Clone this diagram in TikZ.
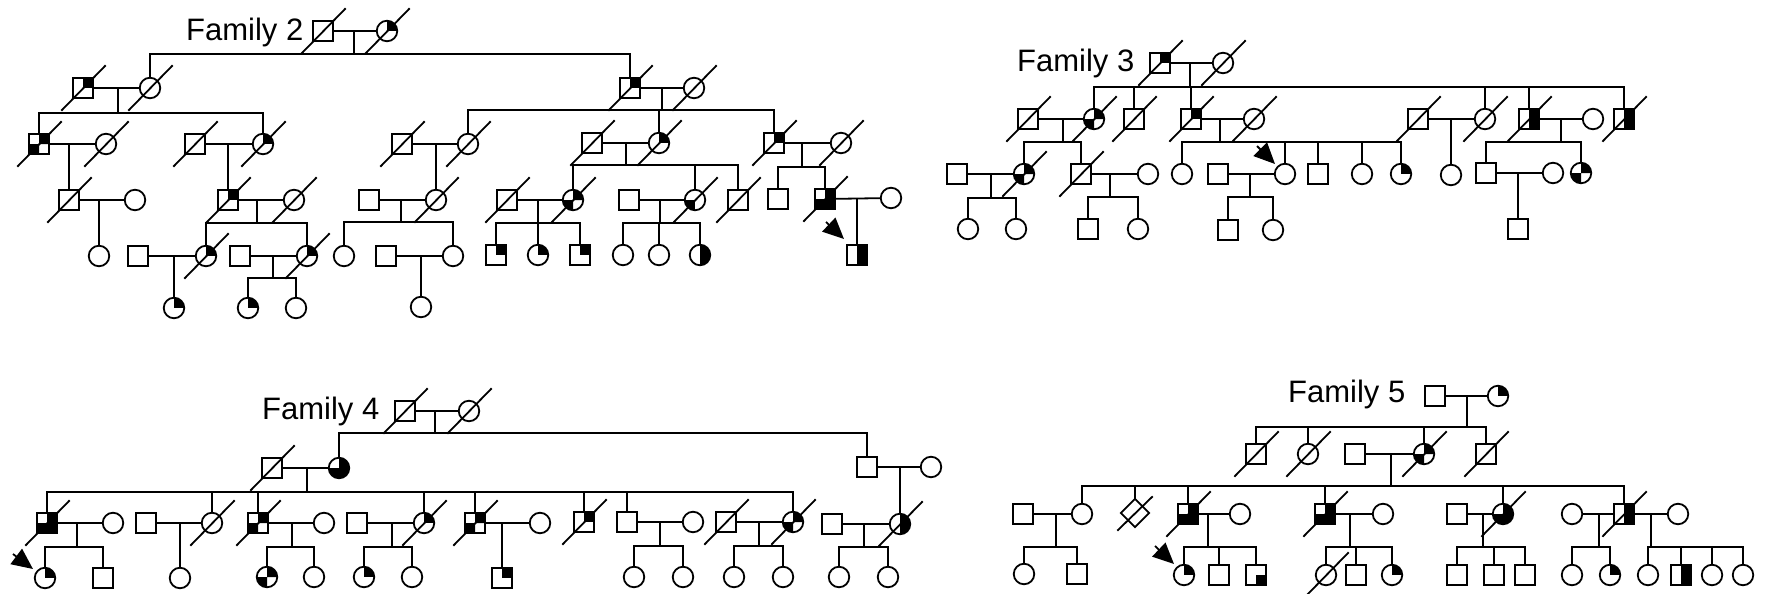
\documentclass[tikz,border=0pt]{standalone}
\usepackage{fontspec}
\setmainfont{Liberation Sans}
\usetikzlibrary{calc,shapes.geometric,arrows.meta}
\tikzset{
  lw/.style={line width=1.8pt, line cap=rect},
  male/.style={draw, rectangle, minimum size=20.5pt, inner sep=0pt, line width=1.8pt},
  fem/.style={draw, circle, minimum size=20.5pt, inner sep=0pt, line width=1.8pt},
  unk/.style={draw, diamond, minimum size=29pt, inner sep=0pt, line width=1.8pt},
  qur/.style={path picture={\fill (path picture bounding box.center) rectangle (path picture bounding box.north east);}},
  qll/.style={path picture={\fill (path picture bounding box.center) rectangle (path picture bounding box.south west);}},
  qlr/.style={path picture={\fill (path picture bounding box.center) rectangle (path picture bounding box.south east);}},
  qchk/.style={path picture={\fill (path picture bounding box.center) rectangle (path picture bounding box.north east) (path picture bounding box.center) rectangle (path picture bounding box.south west);}},
  qthree/.style={path picture={\fill (path picture bounding box.center) rectangle (path picture bounding box.north east) (path picture bounding box.center) rectangle (path picture bounding box.south west) (path picture bounding box.center) rectangle (path picture bounding box.south east);}},
  qrh/.style={path picture={\fill (path picture bounding box.north) rectangle (path picture bounding box.south east);}},
  famtitle/.style={anchor=base west, inner sep=0pt, font=\fontsize{31}{37}\selectfont},
  proband/.style={-{Triangle[length=21pt,width=19pt]}, line width=1.8pt},
}
\newcommand\sibs[2]{\foreach \c in {#2}{\draw[lw] (\c.north) -- (\c.north |- #1);}}
\newcommand\hsib[3]{\draw[lw] (#2.north |- #1) -- (#3.north |- #1);}
\newcommand\dropj[2]{\draw[lw] (#1 -| #2) -- (#2);}
\newcommand\onekid[2]{\draw[lw] (#1 -| #2) -- (#2.north);}
\newcommand\deceased[1]{\draw[lw] ($(#1.center)+(-21,22)$) -- ($(#1.center)+(22,-22)$);}
\newcommand\probarrow[5]{\draw[proband] ($(#1.center)+(#2,#3)$) -- ($(#1.center)+(#4,#5)$);}
\begin{document}
\begin{tikzpicture}[x=1pt,y=-1pt]
\useasboundingbox (0,0) rectangle (1769,594);
% ================= Family 2 =================
\node[famtitle] (ttl2) at (186,41) {Family 2};
\node[male] (A2) at (323,31) {};
\node[fem,qur] (B2) at (387,31) {};
\coordinate (jn2a) at (354,54);
\node[fem] (C2) at (150,88) {};
\node[male,qur] (D2) at (630,88) {};
\node[male,qur] (E2) at (83,88) {};
\coordinate (jn2b) at (118,113);
\node[male,qchk] (F2) at (39,144) {};
\node[fem,qur] (G2) at (263,144) {};
\node[fem] (H2) at (694,88) {};
\coordinate (jn2c) at (662,110);
\node[fem] (I2) at (468,144) {};
\node[fem,qur] (J2) at (659,143) {};
\node[male,qur] (K2) at (774,143) {};
\node[fem] (L2) at (106,144) {};
\node[male] (M2) at (69,200) {};
\node[male] (N2) at (195,144) {};
\node[male,qur] (O2) at (228,200) {};
\node[male] (P2) at (402,144) {};
\node[fem] (Q2) at (436,200) {};
\node[male] (R2) at (592,143) {};
\coordinate (jn2d) at (626,165);
\node[fem,qchk] (S2) at (573,200) {};
\node[fem,qll] (T2) at (695,200) {};
\node[male] (U2) at (738,200) {};
\node[fem] (V2) at (841,143) {};
\coordinate (jn2e) at (802,167);
\node[male] (W2) at (778,199) {};
\node[male,qthree] (X2) at (825,199) {};
\node[fem] (Y2) at (135,200) {};
\node[fem] (Z2) at (99,256) {};
\node[fem] (a2) at (294,200) {};
\coordinate (jn2f) at (257,223);
\node[fem,qur] (b2) at (206,256) {};
\node[fem,qur] (c2) at (307,256) {};
\node[male] (d2) at (369,200) {};
\coordinate (jn2g) at (401,222);
\node[fem] (e2) at (344,256) {};
\node[fem] (f2) at (453,256) {};
\node[male] (g2) at (507,200) {};
\coordinate (jn2h) at (538,223);
\node[male,qur] (h2) at (496,255) {};
\node[fem,qur] (i2) at (538,255) {};
\node[male,qur] (j2) at (580,255) {};
\node[male] (k2) at (629,200) {};
\coordinate (jn2i) at (660,223);
\node[fem] (l2) at (623,255) {};
\node[fem] (m2) at (659,255) {};
\node[fem,qrh] (n2) at (700,255) {};
\node[fem] (o2) at (891,198) {};
\node[male,qrh] (p2) at (857,255) {};
\node[male] (q2) at (138,256) {};
\node[fem,qur] (r2) at (174,308) {};
\node[male] (s2) at (240,256) {};
\coordinate (jn2j) at (273,278);
\node[fem,qur] (t2) at (248,308) {};
\node[fem] (u2) at (296,308) {};
\node[male] (v2) at (386,256) {};
\node[fem] (w2) at (421,307) {};
\draw[lw] (A2) -- (B2); \dropj{A2}{jn2a}; \hsib{jn2a}{C2}{D2}; \sibs{jn2a}{C2,D2}
\draw[lw] (E2) -- (C2); \dropj{E2}{jn2b}; \hsib{jn2b}{F2}{G2}; \sibs{jn2b}{F2,G2}
\draw[lw] (D2) -- (H2); \dropj{D2}{jn2c}; \hsib{jn2c}{I2}{K2}; \sibs{jn2c}{I2,J2,K2}
\draw[lw] (F2) -- (L2); \onekid{F2}{M2}
\draw[lw] (N2) -- (G2); \onekid{N2}{O2}
\draw[lw] (P2) -- (I2); \onekid{P2}{Q2}
\draw[lw] (R2) -- (J2); \dropj{R2}{jn2d}; \hsib{jn2d}{S2}{U2}; \sibs{jn2d}{S2,T2,U2}
\draw[lw] (K2) -- (V2); \dropj{K2}{jn2e}; \hsib{jn2e}{W2}{X2}; \sibs{jn2e}{W2,X2}
\draw[lw] (M2) -- (Y2); \onekid{M2}{Z2}
\draw[lw] (O2) -- (a2); \dropj{O2}{jn2f}; \hsib{jn2f}{b2}{c2}; \sibs{jn2f}{b2,c2}
\draw[lw] (d2) -- (Q2); \dropj{d2}{jn2g}; \hsib{jn2g}{e2}{f2}; \sibs{jn2g}{e2,f2}
\draw[lw] (g2) -- (S2); \dropj{g2}{jn2h}; \hsib{jn2h}{h2}{j2}; \sibs{jn2h}{h2,i2,j2}
\draw[lw] (k2) -- (T2); \dropj{k2}{jn2i}; \hsib{jn2i}{l2}{n2}; \sibs{jn2i}{l2,m2,n2}
\draw[lw] (X2) -- (o2); \onekid{X2}{p2}
\draw[lw] (q2) -- (b2); \onekid{q2}{r2}
\draw[lw] (s2) -- (c2); \dropj{s2}{jn2j}; \hsib{jn2j}{t2}{u2}; \sibs{jn2j}{t2,u2}
\draw[lw] (v2) -- (f2); \onekid{v2}{w2}
\foreach \n in {A2,B2,C2,D2,E2,F2,G2,H2,I2,J2,K2,L2,M2,N2,O2,P2,Q2,R2,S2,T2,U2,V2,X2,a2,b2,c2,g2}{\deceased{\n}}
\probarrow{p2}{-31}{-33}{-13}{-16}
% ================= Family 3 =================
\node[famtitle] (ttl3) at (1017,71) {Family 3};
\node[male,qur] (A3) at (1160,63) {};
\node[fem] (B3) at (1223,63) {};
\coordinate (jn3a) at (1190,87);
\node[fem,qchk] (C3) at (1094,119) {};
\node[male] (D3) at (1134,119) {};
\node[male,qur] (E3) at (1191,119) {};
\node[fem] (F3) at (1485,119) {};
\node[male,qrh] (G3) at (1529,119) {};
\node[male,qrh] (H3) at (1624,119) {};
\node[male] (I3) at (1028,119) {};
\coordinate (jn3b) at (1063,142);
\node[fem,qchk] (J3) at (1024,174) {};
\node[male] (K3) at (1081,174) {};
\node[fem] (L3) at (1254,119) {};
\coordinate (jn3c) at (1220,142);
\node[fem] (M3) at (1182,174) {};
\node[fem] (N3) at (1285,174) {};
\node[male] (O3) at (1318,174) {};
\node[fem] (P3) at (1362,174) {};
\node[fem,qur] (Q3) at (1401,174) {};
\node[male] (R3) at (1418,119) {};
\node[fem] (S3) at (1451,175) {};
\node[fem] (T3) at (1593,119) {};
\coordinate (jn3d) at (1561,142);
\node[male] (U3) at (1486,173) {};
\node[fem,qchk] (V3) at (1581,173) {};
\node[male] (W3) at (957,174) {};
\coordinate (jn3e) at (991,198);
\node[fem] (X3) at (968,229) {};
\node[fem] (Y3) at (1016,229) {};
\node[fem] (Z3) at (1148,174) {};
\coordinate (jn3f) at (1110,197);
\node[male] (a3) at (1088,229) {};
\node[fem] (b3) at (1138,229) {};
\node[male] (c3) at (1218,174) {};
\coordinate (jn3g) at (1250,197);
\node[male] (d3) at (1228,230) {};
\node[fem] (e3) at (1273,230) {};
\node[fem] (f3) at (1553,173) {};
\node[male] (g3) at (1518,229) {};
\draw[lw] (A3) -- (B3); \dropj{A3}{jn3a}; \hsib{jn3a}{C3}{H3}; \sibs{jn3a}{C3,D3,E3,F3,G3,H3}
\draw[lw] (I3) -- (C3); \dropj{I3}{jn3b}; \hsib{jn3b}{J3}{K3}; \sibs{jn3b}{J3,K3}
\draw[lw] (E3) -- (L3); \dropj{E3}{jn3c}; \hsib{jn3c}{M3}{Q3}; \sibs{jn3c}{M3,N3,O3,P3,Q3}
\draw[lw] (R3) -- (F3); \onekid{R3}{S3}
\draw[lw] (G3) -- (T3); \dropj{G3}{jn3d}; \hsib{jn3d}{U3}{V3}; \sibs{jn3d}{U3,V3}
\draw[lw] (W3) -- (J3); \dropj{W3}{jn3e}; \hsib{jn3e}{X3}{Y3}; \sibs{jn3e}{X3,Y3}
\draw[lw] (K3) -- (Z3); \dropj{K3}{jn3f}; \hsib{jn3f}{a3}{b3}; \sibs{jn3f}{a3,b3}
\draw[lw] (c3) -- (N3); \dropj{c3}{jn3g}; \hsib{jn3g}{d3}{e3}; \sibs{jn3g}{d3,e3}
\draw[lw] (U3) -- (f3); \onekid{U3}{g3}
\foreach \n in {A3,B3,C3,D3,E3,F3,G3,H3,I3,J3,K3,L3,R3}{\deceased{\n}}
\probarrow{N3}{-28}{-28}{-10}{-10}
% ================= Family 4 =================
\node[famtitle] (ttl4) at (262,419) {Family 4};
\node[male] (A4) at (405,411) {};
\node[fem] (B4) at (469,411) {};
\coordinate (jn4a) at (435,433);
\node[fem,qthree] (C4) at (339,468) {};
\node[male] (D4) at (867,467) {};
\node[male] (E4) at (272,468) {};
\coordinate (jn4b) at (307,492);
\node[male,qthree] (F4) at (47,523) {};
\node[fem] (G4) at (212,523) {};
\node[male,qchk] (H4) at (258,523) {};
\node[fem,qur] (I4) at (424,523) {};
\node[male,qchk] (J4) at (475,523) {};
\node[male,qur] (K4) at (584,522) {};
\node[male] (L4) at (627,522) {};
\node[fem,qchk] (M4) at (793,522) {};
\node[fem] (N4) at (931,467) {};
\node[fem,qrh] (O4) at (900,524) {};
\node[fem] (P4) at (113,523) {};
\coordinate (jn4c) at (77,547);
\node[fem,qur] (Q4) at (45,578) {};
\node[male] (R4) at (103,578) {};
\node[male] (S4) at (146,523) {};
\node[fem] (T4) at (180,578) {};
\node[fem] (U4) at (324,523) {};
\coordinate (jn4d) at (292,547);
\node[fem,qchk] (V4) at (267,577) {};
\node[fem] (W4) at (314,577) {};
\node[male] (X4) at (357,523) {};
\coordinate (jn4e) at (392,547);
\node[fem,qur] (Y4) at (364,577) {};
\node[fem] (Z4) at (412,577) {};
\node[fem] (a4) at (540,523) {};
\node[male,qur] (b4) at (502,578) {};
\node[fem] (c4) at (693,522) {};
\coordinate (jn4f) at (660,546);
\node[fem] (d4) at (634,577) {};
\node[fem] (e4) at (683,577) {};
\node[male] (f4) at (726,522) {};
\coordinate (jn4g) at (759,546);
\node[fem] (g4) at (734,577) {};
\node[fem] (h4) at (783,577) {};
\node[male] (i4) at (832,524) {};
\coordinate (jn4h) at (864,547);
\node[fem] (j4) at (839,577) {};
\node[fem] (k4) at (888,577) {};
\draw[lw] (A4) -- (B4); \dropj{A4}{jn4a}; \hsib{jn4a}{C4}{D4}; \sibs{jn4a}{C4,D4}
\draw[lw] (E4) -- (C4); \dropj{E4}{jn4b}; \hsib{jn4b}{F4}{M4}; \sibs{jn4b}{F4,G4,H4,I4,J4,K4,L4,M4}
\draw[lw] (D4) -- (N4); \onekid{D4}{O4}
\draw[lw] (F4) -- (P4); \dropj{F4}{jn4c}; \hsib{jn4c}{Q4}{R4}; \sibs{jn4c}{Q4,R4}
\draw[lw] (S4) -- (G4); \onekid{S4}{T4}
\draw[lw] (H4) -- (U4); \dropj{H4}{jn4d}; \hsib{jn4d}{V4}{W4}; \sibs{jn4d}{V4,W4}
\draw[lw] (X4) -- (I4); \dropj{X4}{jn4e}; \hsib{jn4e}{Y4}{Z4}; \sibs{jn4e}{Y4,Z4}
\draw[lw] (J4) -- (a4); \onekid{J4}{b4}
\draw[lw] (L4) -- (c4); \dropj{L4}{jn4f}; \hsib{jn4f}{d4}{e4}; \sibs{jn4f}{d4,e4}
\draw[lw] (f4) -- (M4); \dropj{f4}{jn4g}; \hsib{jn4g}{g4}{h4}; \sibs{jn4g}{g4,h4}
\draw[lw] (i4) -- (O4); \dropj{i4}{jn4h}; \hsib{jn4h}{j4}{k4}; \sibs{jn4h}{j4,k4}
\foreach \n in {A4,B4,E4,F4,G4,H4,I4,J4,K4,M4,O4,f4}{\deceased{\n}}
\probarrow{Q4}{-32}{-24}{-12}{-9}
% ================= Family 5 =================
\node[famtitle] (ttl5) at (1288,402) {Family 5};
\node[male] (A5) at (1435,396) {};
\node[fem,qur] (B5) at (1498,396) {};
\coordinate (jn5a) at (1467,427);
\node[male] (C5) at (1256,454) {};
\node[fem] (D5) at (1308,454) {};
\node[fem,qchk] (E5) at (1424,454) {};
\node[male] (F5) at (1486,454) {};
\node[male] (G5) at (1355,454) {};
\coordinate (jn5b) at (1391,486);
\node[fem] (H5) at (1082,514) {};
\node[unk] (I5) at (1135,513) {};
\node[male,qthree] (J5) at (1188,514) {};
\node[male,qthree] (K5) at (1325,514) {};
\node[fem,qthree] (L5) at (1503,514) {};
\node[male,qrh] (M5) at (1624,514) {};
\node[male] (N5) at (1023,514) {};
\coordinate (jn5c) at (1056,547);
\node[fem] (O5) at (1024,574) {};
\node[male] (P5) at (1077,574) {};
\node[fem] (Q5) at (1240,514) {};
\coordinate (jn5d) at (1208,547);
\node[fem,qur] (R5) at (1184,575) {};
\node[male] (S5) at (1219,575) {};
\node[male,qlr] (T5) at (1256,575) {};
\node[fem] (U5) at (1383,514) {};
\coordinate (jn5e) at (1350,547);
\node[fem] (V5) at (1326,575) {};
\node[male] (W5) at (1356,575) {};
\node[fem,qur] (X5) at (1392,575) {};
\node[male] (Y5) at (1457,514) {};
\coordinate (jn5f) at (1483,547);
\node[male] (Z5) at (1457,575) {};
\node[male] (a5) at (1494,575) {};
\node[male] (b5) at (1525,575) {};
\node[fem] (c5) at (1572,514) {};
\coordinate (jn5g) at (1599,547);
\node[fem] (e5) at (1572,575) {};
\node[fem,qur] (f5) at (1610,575) {};
\node[fem] (d5) at (1678,514) {};
\coordinate (jn5h) at (1651,547);
\node[fem] (g5) at (1648,575) {};
\node[male,qrh] (h5) at (1681,575) {};
\node[fem] (i5) at (1712,575) {};
\node[fem] (j5) at (1743,575) {};
\draw[lw] (A5) -- (B5); \dropj{A5}{jn5a}; \hsib{jn5a}{C5}{F5}; \sibs{jn5a}{C5,D5,E5,F5}
\draw[lw] (G5) -- (E5); \dropj{G5}{jn5b}; \hsib{jn5b}{H5}{M5}; \sibs{jn5b}{H5,I5,J5,K5,L5,M5}
\draw[lw] (N5) -- (H5); \dropj{N5}{jn5c}; \hsib{jn5c}{O5}{P5}; \sibs{jn5c}{O5,P5}
\draw[lw] (J5) -- (Q5); \dropj{J5}{jn5d}; \hsib{jn5d}{R5}{T5}; \sibs{jn5d}{R5,S5,T5}
\draw[lw] (K5) -- (U5); \dropj{K5}{jn5e}; \hsib{jn5e}{V5}{X5}; \sibs{jn5e}{V5,W5,X5}
\draw[lw] (Y5) -- (L5); \dropj{Y5}{jn5f}; \hsib{jn5f}{Z5}{b5}; \sibs{jn5f}{Z5,a5,b5}
\draw[lw] (c5) -- (M5); \dropj{c5}{jn5g}; \hsib{jn5g}{e5}{f5}; \sibs{jn5g}{e5,f5}
\draw[lw] (M5) -- (d5); \dropj{M5}{jn5h}; \hsib{jn5h}{g5}{j5}; \sibs{jn5h}{g5,h5,i5,j5}
\foreach \n in {C5,D5,E5,F5,J5,K5,L5,M5,V5}{\deceased{\n}}
\draw[lw] ($(I5.center)+(-17,17)$) -- ($(I5.center)+(17,-16)$);
\probarrow{R5}{-29}{-29}{-10}{-11}
\end{tikzpicture}
\end{document}
